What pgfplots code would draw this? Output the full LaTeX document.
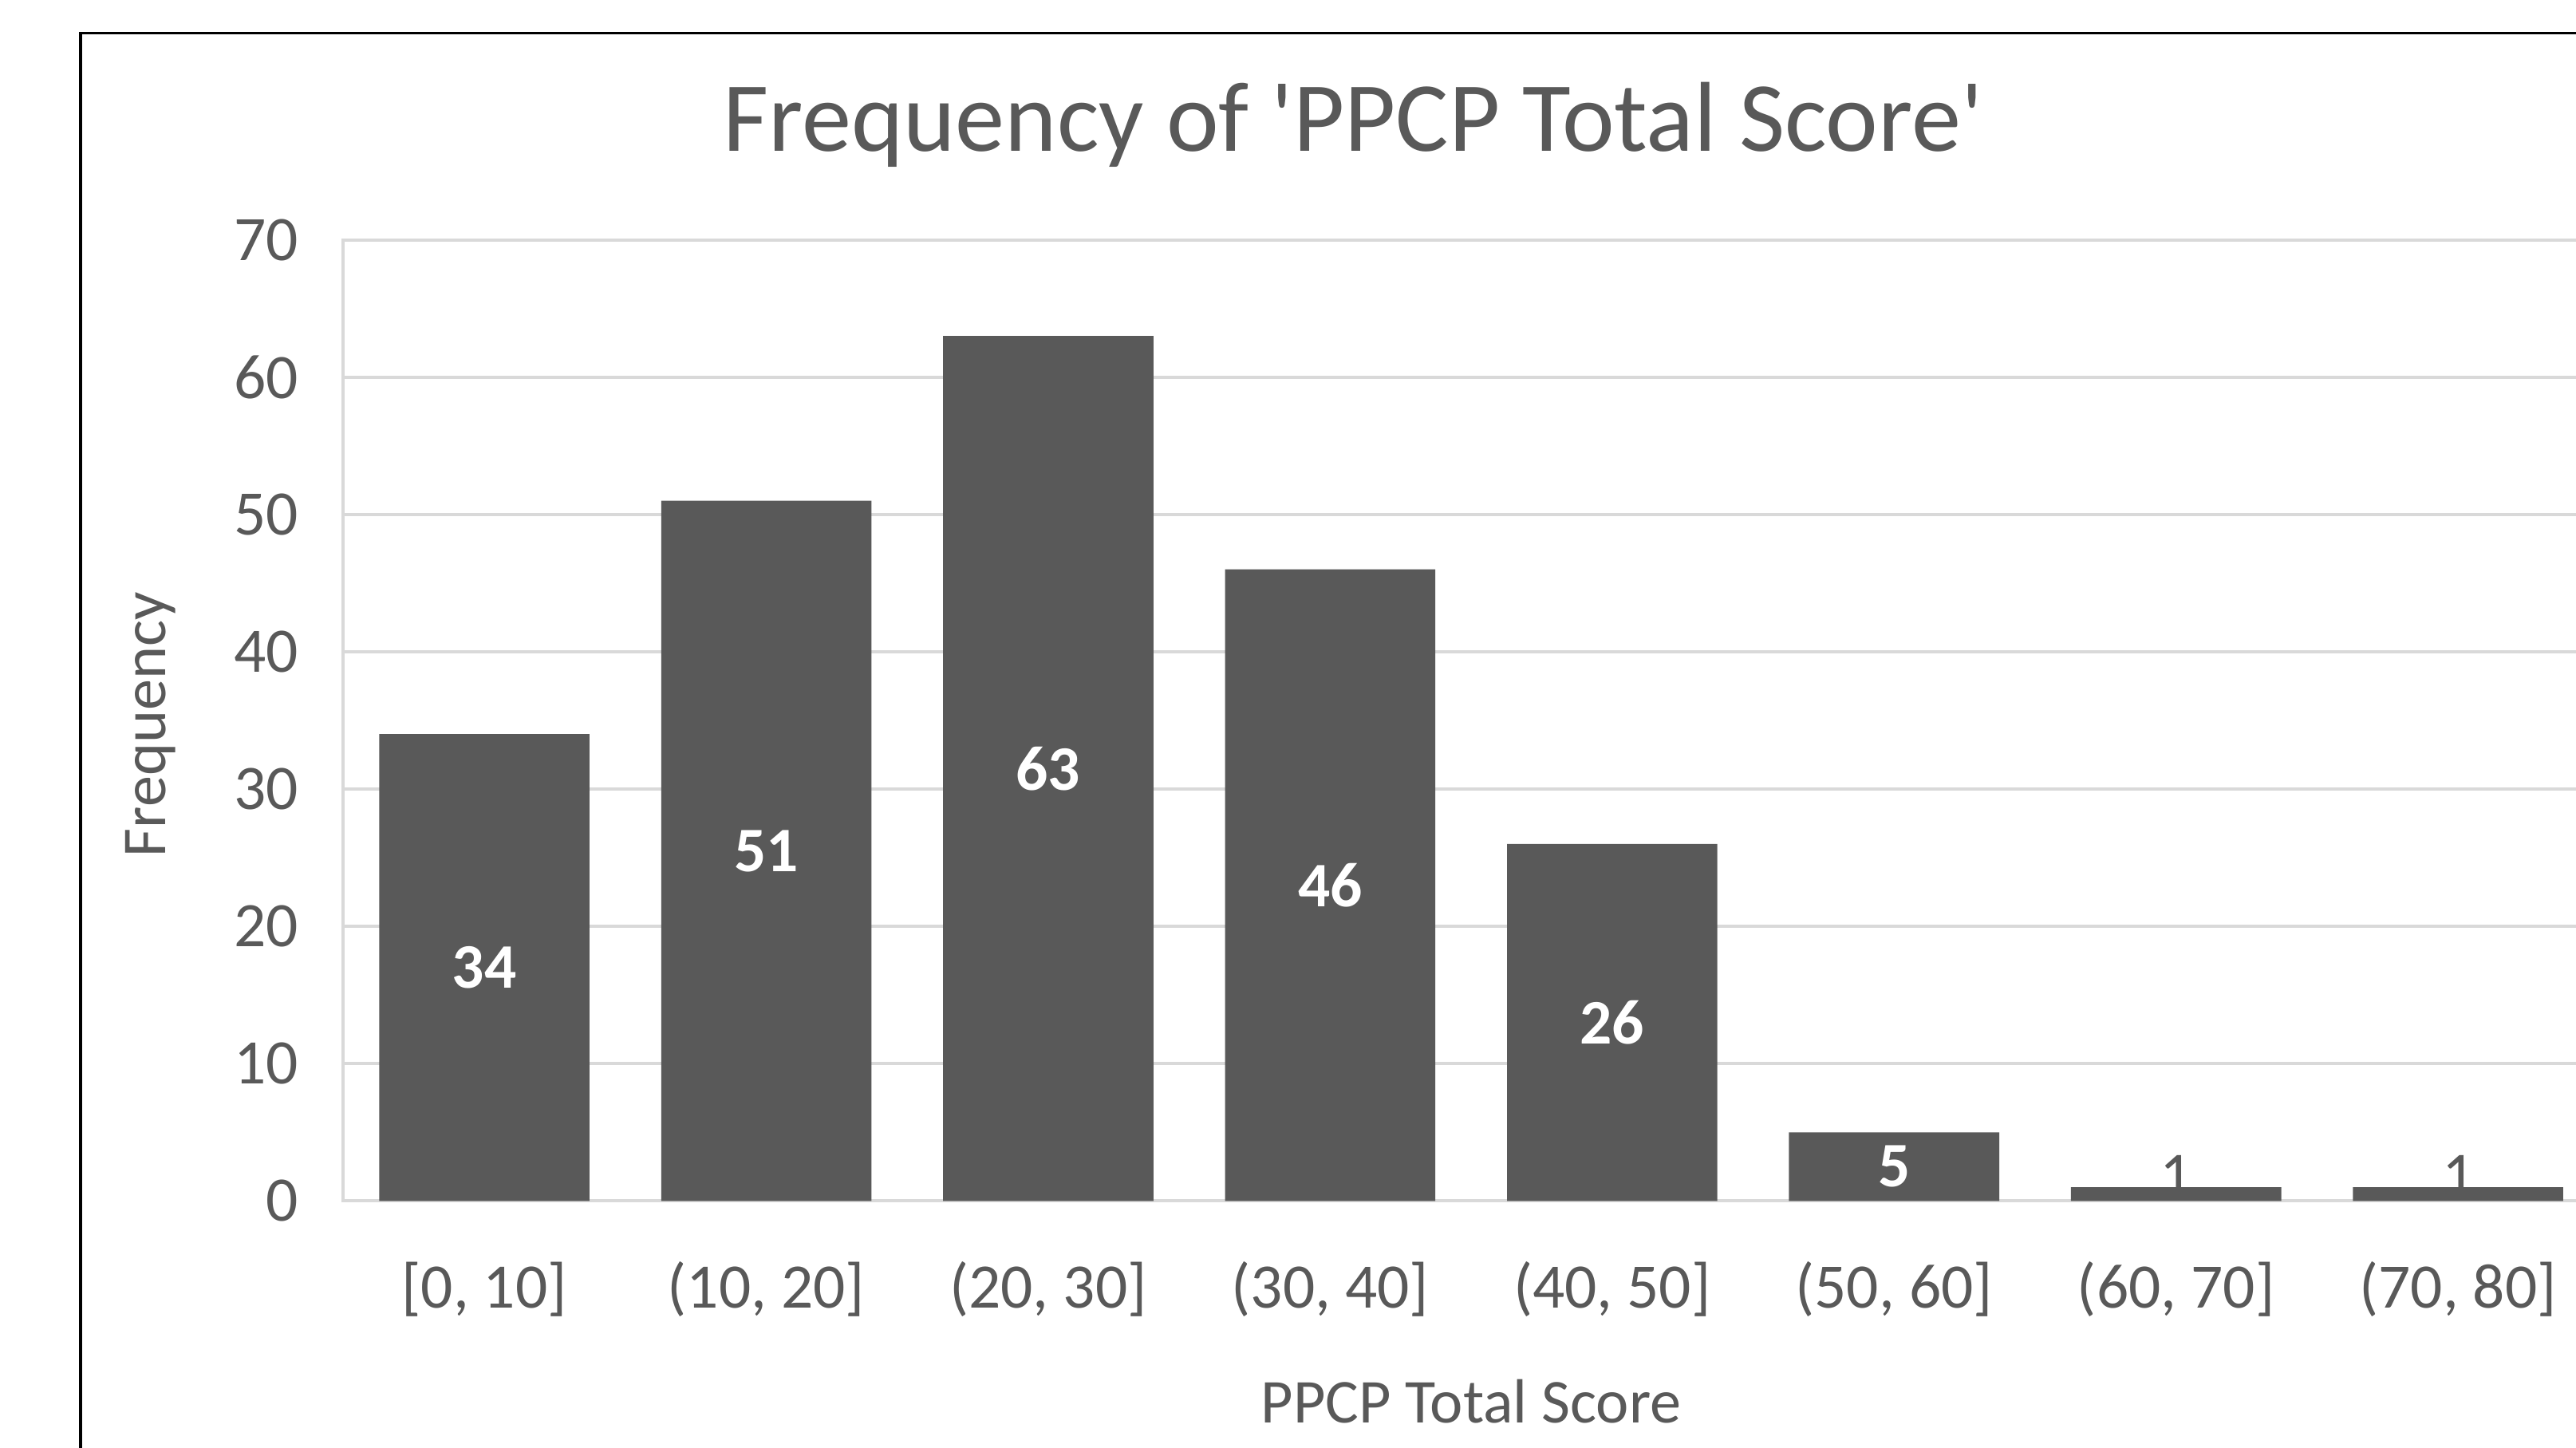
\documentclass[border=0pt]{standalone}
\usepackage{fontspec}
\setmainfont{Carlito}
\usepackage{pgfplots}
\pgfplotsset{compat=1.18}
\definecolor{txt}{HTML}{595959}
\definecolor{barc}{HTML}{595959}
\definecolor{grd}{HTML}{D9D9D9}
\newcommand{\tfont}{\fontsize{19.3}{22}\selectfont}
\begin{document}
\begin{tikzpicture}
\path[use as bounding box] (0,0) rectangle (784pt,-440.5pt);
\clip (0,0) rectangle (784pt,-440.5pt);
\draw[line width=0.8pt, black] (24.5pt,-460pt) -- (24.5pt,-10pt) -- (800pt,-10pt);
\begin{axis}[
  at={(104.5pt,-365.5pt)}, anchor=south west,
  scale only axis, width=686.5pt, height=292.5pt,
  xmin=-0.5, xmax=7.5, ymin=0, ymax=70,
  xtick={0,...,7},
  xticklabels={{[0, 10]},{(10, 20]},{(20, 30]},{(30, 40]},{(40, 50]},{(50, 60]},{(60, 70]},{(70, 80]}},
  ytick={0,10,...,70},
  ymajorgrids, grid style={grd, line width=1pt},
  axis line style={grd, line width=1pt},
  major tick length=0pt,
  tick label style={font=\tfont, text=txt},
  /pgf/number format/assume math mode=true,
  yticklabel style={anchor=east, inner sep=0pt, xshift=-13.5pt},
  xticklabel style={anchor=base, inner sep=0pt, yshift=-32.5pt},
  xlabel={PPCP Total Score}, ylabel={Frequency},
  label style={font=\fontsize{19}{22}\selectfont, text=txt},
  xlabel style={at={(axis description cs:0.5,-0.2308)}, anchor=base, inner sep=0pt},
  ylabel style={at={(axis description cs:-0.0787,0.4957)}, anchor=base, inner sep=0pt},
  title={Frequency of \textquotesingle PPCP Total Score\textquotesingle},
  title style={at={(axis description cs:0.4476,1.0923)}, anchor=base, yshift=-6pt, inner sep=0pt, font=\fontsize{30.2}{34}\selectfont, text=txt},
  clip=false,
]
\addplot[ybar, bar width=64pt, fill=barc, draw=none] coordinates {(0,34) (1,51) (2,63) (3,46) (4,26) (5,5) (6,1) (7,1)};
\addplot[draw=none, mark=none, nodes near coords, point meta=explicit symbolic,
  nodes near coords style={anchor=center, text=white, font=\tfont\bfseries}]
  coordinates {(0,17)[34] (1,25.5)[51] (2,31.5)[63] (3,23)[46] (4,13)[26] (5,2.5)[5]};
\addplot[draw=none, mark=none, nodes near coords, point meta=explicit symbolic,
  nodes near coords style={anchor=center, text=txt, font=\tfont}]
  coordinates {(6,1.8)[1] (7,1.8)[1]};
\end{axis}
\end{tikzpicture}
\end{document}
